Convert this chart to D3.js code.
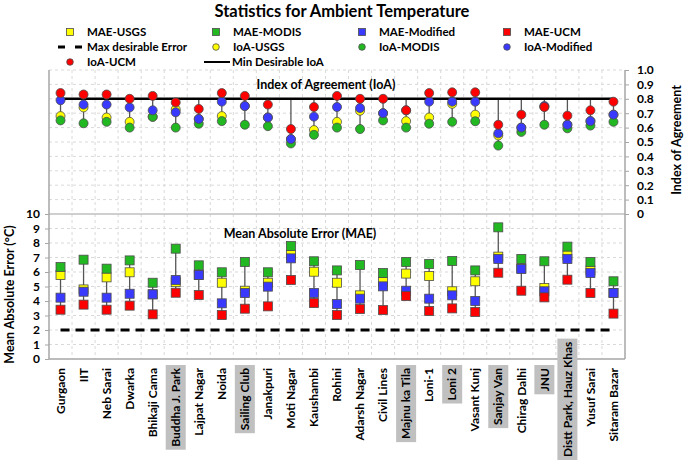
<!DOCTYPE html>
<html>
<head>
<meta charset="utf-8">
<script src="https://cdn.jsdelivr.net/npm/d3@7"></script>
<style>
  body { margin: 0; background: #fff; }
  svg { font-family: Lato, "Open Sans", sans-serif; font-weight: bold; }
</style>
</head>
<body>
<svg width="685" height="461"></svg>
<script>
// stations along the x axis
const stations = ["Gurgaon", "IIT", "Neb Sarai", "Dwarka", "Bhikaji Cama", "Buddha J. Park", "Lajpat Nagar",
  "Noida", "Sailing Club", "Janakpuri", "Moti Nagar", "Kaushambi", "Rohini", "Adarsh Nagar", "Civil Lines",
  "Majnu ka Tila", "Loni-1", "Loni 2", "Vasant Kunj", "Sanjay Van", "Chirag Dalhi", "JNU",
  "Distt Park, Hauz Khas", "Yusuf Sarai", "Sitaram Bazar"];
const highlighted = ["Buddha J. Park", "Sailing Club", "Majnu ka Tila", "Loni 2", "Sanjay Van", "JNU", "Distt Park, Hauz Khas"];

// mean absolute error (°C)
const maeUSGS     = [5.79, 4.8, 5.63, 5.98, 4.46, 5.3, 5.79, 5.26, 4.71, 5.26, 7.17, 6.02, 5.26, 4.39, 5.31, 5.89, 5.72, 4.67, 5.36, 7.06, 6.25, 4.9, 7.15, 6.11, 4.55];
const maeMODIS    = [6.34, 6.85, 6.23, 6.8, 5.26, 7.61, 6.46, 5.98, 6.69, 5.98, 7.79, 6.74, 6.11, 6.48, 5.93, 6.69, 6.55, 6.76, 6.11, 9.08, 6.9, 6.74, 7.75, 6.69, 5.36];
const maeModified = [4.23, 4.64, 4.23, 4.5, 4.46, 5.45, 5.79, 3.84, 4.55, 4.99, 6.94, 4.55, 3.79, 4.16, 5.01, 4.71, 4.16, 4.39, 4.0, 6.9, 6.21, 4.67, 6.9, 5.93, 4.55];
const maeUCM      = [3.4, 3.75, 3.4, 3.68, 3.08, 4.57, 4.41, 3.03, 3.47, 3.63, 5.45, 3.86, 3.03, 3.45, 3.38, 4.34, 3.31, 3.49, 3.24, 5.95, 4.71, 4.25, 5.47, 4.55, 3.13];

// index of agreement
const ioaUSGS     = [0.68, 0.74, 0.67, 0.64, 0.675, 0.727, 0.66, 0.68, 0.75, 0.67, 0.52, 0.583, 0.64, 0.717, 0.70, 0.645, 0.67, 0.765, 0.69, 0.545, 0.60, 0.745, 0.62, 0.645, 0.69];
const ioaMODIS    = [0.65, 0.63, 0.64, 0.60, 0.675, 0.60, 0.627, 0.645, 0.62, 0.61, 0.49, 0.55, 0.60, 0.59, 0.65, 0.60, 0.627, 0.64, 0.644, 0.475, 0.57, 0.62, 0.595, 0.614, 0.64];
const ioaModified = [0.79, 0.76, 0.76, 0.74, 0.72, 0.706, 0.66, 0.78, 0.75, 0.67, 0.52, 0.676, 0.743, 0.736, 0.70, 0.72, 0.78, 0.78, 0.78, 0.56, 0.60, 0.75, 0.62, 0.645, 0.69];
const ioaUCM      = [0.84, 0.83, 0.83, 0.80, 0.82, 0.775, 0.73, 0.84, 0.82, 0.76, 0.59, 0.743, 0.82, 0.80, 0.80, 0.72, 0.84, 0.845, 0.845, 0.62, 0.69, 0.743, 0.683, 0.72, 0.78];

const maxDesirableError = 2;
const minDesirableIoA = 0.8;
const maeTicks = [0, 1, 2, 3, 4, 5, 6, 7, 8, 9, 10];
const ioaTicks = [0, 0.1, 0.2, 0.3, 0.4, 0.5, 0.6, 0.7, 0.8, 0.9, 1.0];

const colors = { USGS: "#ffff00", MODIS: "#22b822", Modified: "#3a3aff", UCM: "#ff0000" };

const maeSeries = [
  { name: "MAE-USGS", values: maeUSGS, color: colors.USGS },
  { name: "MAE-MODIS", values: maeMODIS, color: colors.MODIS },
  { name: "MAE-Modified", values: maeModified, color: colors.Modified },
  { name: "MAE-UCM", values: maeUCM, color: colors.UCM }
];
const ioaSeries = [
  { name: "IoA-USGS", values: ioaUSGS, color: colors.USGS },
  { name: "IoA-MODIS", values: ioaMODIS, color: colors.MODIS },
  { name: "IoA-Modified", values: ioaModified, color: colors.Modified },
  { name: "IoA-UCM", values: ioaUCM, color: colors.UCM }
];

const svg = d3.select("svg");
const pLeft = 49, pRight = 625, pTop = 70, pMid = 214, pBottom = 359;

const x = d3.scaleBand().domain(stations).range([pLeft, pRight]);
const cx = s => x(s) + x.bandwidth() / 2;
const yI = d3.scaleLinear().domain([0, 1]).range([pMid, pTop]);
const yM = d3.scaleLinear().domain([0, 10]).range([pBottom, pMid]);

// title
svg.append("text").attr("x", 342).attr("y", 17).attr("text-anchor", "middle")
   .attr("font-size", 16.5).text("Statistics for Ambient Temperature");

// grid
const grid = svg.append("g").attr("stroke", "#d9d9d9").attr("stroke-dasharray", "3,3").attr("stroke-width", 1);
grid.selectAll("line.v").data(stations.slice(1)).join("line").attr("class", "v")
    .attr("x1", d => x(d)).attr("x2", d => x(d)).attr("y1", pTop).attr("y2", pBottom);
grid.selectAll("line.hi").data(ioaTicks.slice(1)).join("line").attr("class", "hi")
    .attr("x1", pLeft).attr("x2", pRight).attr("y1", d => yI(d)).attr("y2", d => yI(d));
grid.selectAll("line.hm").data(maeTicks.slice(1, -1)).join("line").attr("class", "hm")
    .attr("x1", pLeft).attr("x2", pRight).attr("y1", d => yM(d)).attr("y2", d => yM(d));
svg.append("line").attr("x1", pLeft).attr("x2", pRight).attr("y1", pMid).attr("y2", pMid)
   .attr("stroke", "#bfbfbf").attr("stroke-width", 1.5);

// axes
const axL = svg.append("g").attr("transform", `translate(${pLeft},0)`)
  .call(d3.axisLeft(yM).tickValues(maeTicks).tickSize(4).tickPadding(5).tickFormat(d3.format("d")));
const axR = svg.append("g").attr("transform", `translate(${pRight},0)`)
  .call(d3.axisRight(yI).tickValues(ioaTicks).tickSize(4).tickPadding(8).tickFormat(d => d === 0 ? "0" : d3.format(".1f")(d)));
[axL, axR].forEach(a => {
  a.select(".domain").attr("stroke", "#a6a6a6").attr("stroke-width", 1.5).attr("d", `M0,${pTop}V${pBottom}`);
  a.selectAll(".tick line").attr("stroke", "#a6a6a6");
  a.selectAll(".tick text").attr("font-size", 12).attr("font-weight", "bold").attr("font-family", "Lato, sans-serif").attr("fill", "#000");
});
svg.append("line").attr("x1", pLeft).attr("x2", pRight).attr("y1", pBottom).attr("y2", pBottom)
   .attr("stroke", "#a6a6a6").attr("stroke-width", 1.5);

// axis titles
svg.append("text").attr("transform", `translate(14,${(pMid + pBottom) / 2 + 8}) rotate(-90)`)
   .attr("text-anchor", "middle").attr("font-size", 12.5).text("Mean Absolute Error (°C)");
svg.append("text").attr("transform", `translate(681,140) rotate(-90)`)
   .attr("text-anchor", "middle").attr("font-size", 12.5).text("Index of Agreement");

// panel titles
svg.append("text").attr("x", 326).attr("y", 89).attr("text-anchor", "middle").attr("font-size", 12.5)
   .text("Index of Agreement (IoA)");
svg.append("text").attr("x", 300).attr("y", 238).attr("text-anchor", "middle").attr("font-size", 12.5)
   .text("Mean Absolute Error (MAE)");

// high-low stems
const stemI = stations.map((s, i) => {
  const v = ioaSeries.map(d => d.values[i]).concat([minDesirableIoA]);
  return { s, lo: d3.min(v), hi: d3.max(v) };
});
const stemM = stations.map((s, i) => {
  const v = maeSeries.map(d => d.values[i]);
  return { s, lo: d3.min(v), hi: d3.max(v) };
});
svg.append("g").selectAll("line").data(stemI).join("line")
   .attr("x1", d => cx(d.s)).attr("x2", d => cx(d.s)).attr("y1", d => yI(d.lo)).attr("y2", d => yI(d.hi))
   .attr("stroke", "#555").attr("stroke-width", 1.3);
svg.append("g").selectAll("line").data(stemM).join("line")
   .attr("x1", d => cx(d.s)).attr("x2", d => cx(d.s)).attr("y1", d => yM(d.lo)).attr("y2", d => yM(d.hi))
   .attr("stroke", "#555").attr("stroke-width", 1.3);

// reference lines
const refLine = d3.line().x(d => cx(d)).y(() => yI(minDesirableIoA));
svg.append("path").attr("d", refLine(stations)).attr("stroke", "#000").attr("stroke-width", 2.5).attr("fill", "none");
const errLine = d3.line().x(d => cx(d)).y(() => yM(maxDesirableError));
svg.append("path").attr("d", errLine(stations)).attr("stroke", "#000").attr("stroke-width", 3)
   .attr("stroke-dasharray", "9,6").attr("fill", "none");

// MAE squares
const sq = 9;
maeSeries.forEach(ser => {
  svg.append("g").selectAll("rect").data(stations).join("rect")
     .attr("x", d => cx(d) - sq / 2).attr("y", (d, i) => yM(ser.values[i]) - sq / 2)
     .attr("width", sq).attr("height", sq)
     .attr("fill", ser.color).attr("stroke", "#4d4d4d").attr("stroke-width", 0.8);
});
// IoA circles
ioaSeries.forEach(ser => {
  svg.append("g").selectAll("circle").data(stations).join("circle")
     .attr("cx", d => cx(d)).attr("cy", (d, i) => yI(ser.values[i])).attr("r", 4.5)
     .attr("fill", ser.color).attr("stroke", "#4d4d4d").attr("stroke-width", 0.8);
});

// x labels
const labels = svg.append("g");
stations.forEach(s => {
  const g = labels.append("g");
  const t = g.append("text").attr("font-size", 12).attr("text-anchor", "end").attr("dy", "0.35em").text(s);
  const len = t.node().getComputedTextLength();
  const yEnd = Math.min(368, 457 - len);
  g.attr("transform", `translate(${cx(s)},${yEnd}) rotate(-90)`);
  if (highlighted.includes(s)) {
    g.insert("rect", "text").attr("x", -len - 3).attr("y", -10).attr("width", len + 6).attr("height", 20)
     .attr("fill", "#c0c0c0");
  }
});

// legend
const legend = svg.append("g").attr("font-size", 11.5);
const legendItems = [
  { label: "MAE-USGS", type: "sq", color: colors.USGS, x: 70, y: 32 },
  { label: "MAE-MODIS", type: "sq", color: colors.MODIS, x: 216, y: 32 },
  { label: "MAE-Modified", type: "sq", color: colors.Modified, x: 362, y: 32 },
  { label: "MAE-UCM", type: "sq", color: colors.UCM, x: 507, y: 32 },
  { label: "Max desirable Error", type: "dash", x: 70, y: 47 },
  { label: "IoA-USGS", type: "dot", color: colors.USGS, x: 216, y: 47 },
  { label: "IoA-MODIS", type: "dot", color: colors.MODIS, x: 362, y: 47 },
  { label: "IoA-Modified", type: "dot", color: colors.Modified, x: 507, y: 47 },
  { label: "IoA-UCM", type: "dot", color: colors.UCM, x: 70, y: 62 },
  { label: "Min Desirable IoA", type: "line", x: 216, y: 62 }
];
legendItems.forEach(d => {
  const g = legend.append("g").attr("transform", `translate(${d.x},${d.y})`);
  if (d.type === "sq") {
    g.append("rect").attr("x", -3.5).attr("y", -3.5).attr("width", 7).attr("height", 7)
     .attr("fill", d.color).attr("stroke", "#4d4d4d").attr("stroke-width", 0.8);
  } else if (d.type === "dot") {
    g.append("circle").attr("r", 3.3).attr("fill", d.color).attr("stroke", "#4d4d4d").attr("stroke-width", 0.8);
  } else if (d.type === "dash") {
    g.append("line").attr("x1", -12).attr("x2", 12).attr("stroke", "#000").attr("stroke-width", 3).attr("stroke-dasharray", "7,10");
  } else {
    g.append("line").attr("x1", -12).attr("x2", 14).attr("stroke", "#000").attr("stroke-width", 2);
  }
  g.append("text").attr("x", d.type === "line" ? 16 : 17).attr("dy", "0.35em").text(d.label);
});
</script>
</body>
</html>
